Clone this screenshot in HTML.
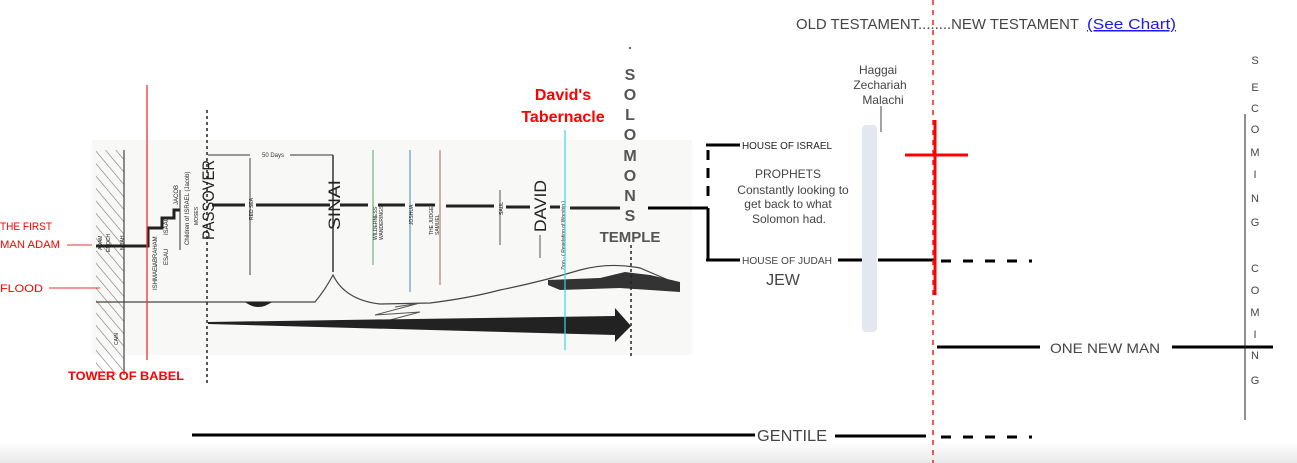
<!DOCTYPE html>
<html><head><meta charset="utf-8"><style>
html,body{margin:0;padding:0;background:#fff;width:1297px;height:463px;overflow:hidden}
svg{display:block}
text{font-family:"Liberation Sans",sans-serif}
</style></head><body>
<svg width="1297" height="463" viewBox="0 0 1297 463" xmlns="http://www.w3.org/2000/svg">
<defs>
<linearGradient id="bot" x1="0" y1="0" x2="0" y2="1"><stop offset="0" stop-color="#fff"/><stop offset="1" stop-color="#e8e8e8"/></linearGradient>
<pattern id="hatch" width="8" height="8" patternUnits="userSpaceOnUse" patternTransform="rotate(-40)"><line x1="0" y1="0" x2="0" y2="8" stroke="#777" stroke-width="1.2"/></pattern>
</defs>
<rect x="0" y="442" width="1297" height="21" fill="url(#bot)"/>
<rect x="92" y="140" width="600" height="215" fill="#f8f8f6"/>
<rect x="96" y="150" width="28" height="225" fill="url(#hatch)"/>
<line x1="124" y1="150" x2="124" y2="375" stroke="#444" stroke-width="1.2"/>
<polyline points="96,246 148,246 148,228 162,228 162,218 174,218 174,210 180,210" fill="none" stroke="#222" stroke-width="3"/>
<line x1="180" y1="190" x2="180" y2="250" stroke="#333" stroke-width="1"/>
<g stroke="#222" stroke-width="3">
<line x1="212" y1="205" x2="245" y2="205"/><line x1="256" y1="205" x2="330" y2="205"/>
<line x1="340" y1="205" x2="368" y2="205"/><line x1="378" y1="205" x2="405" y2="205"/>
<line x1="415" y1="205" x2="435" y2="205"/><line x1="446" y1="206" x2="494" y2="206"/>
<line x1="506" y1="207" x2="530" y2="207"/><line x1="550" y1="207" x2="560" y2="207"/>
<line x1="570" y1="208" x2="620" y2="208"/>
</g>
<line x1="648" y1="208" x2="708" y2="208" stroke="#000" stroke-width="3"/>
<path d="M96,302 L315,302 Q325,290 333,275 Q345,300 380,304 L430,303 Q470,298 500,290 Q540,282 580,270 Q610,262 640,268 L680,285" fill="none" stroke="#444" stroke-width="1.2"/>
<path d="M245,302 Q258,312 272,302 Z" fill="#222"/>
<path d="M548,285 L548,280 L600,278 L625,272 L650,275 L680,282 L680,292 L620,288 L560,290 Z" fill="#333"/>
<path d="M395,307 L420,303 L375,315 L420,312 L390,320" fill="none" stroke="#555" stroke-width="1"/>
<path d="M208,322 L615,316 L615,308 L631,326 L615,342 L615,335 L208,324 Z" fill="#222"/>
<line x1="208" y1="155" x2="250" y2="155" stroke="#333" stroke-width="1"/>
<line x1="290" y1="155" x2="333" y2="155" stroke="#333" stroke-width="1"/>
<text x="262" y="157" font-size="6" fill="#333">50 Days</text>
<line x1="250" y1="158" x2="250" y2="275" stroke="#444" stroke-width="1"/>
<line x1="333" y1="155" x2="333" y2="272" stroke="#333" stroke-width="1.5"/>
<line x1="373" y1="150" x2="373" y2="265" stroke="#5a6" stroke-width="1"/>
<line x1="410" y1="150" x2="410" y2="292" stroke="#48a" stroke-width="1"/>
<line x1="440" y1="150" x2="440" y2="285" stroke="#a66" stroke-width="1"/>
<line x1="500" y1="190" x2="500" y2="245" stroke="#555" stroke-width="1"/>
<line x1="540" y1="235" x2="540" y2="258" stroke="#555" stroke-width="1"/>
<g fill="#222">
<text transform="translate(214,240) rotate(-90)" font-size="17" textLength="80" lengthAdjust="spacingAndGlyphs">PASSOVER</text>
<text transform="translate(340,230) rotate(-90)" font-size="17" textLength="50" lengthAdjust="spacingAndGlyphs">SINAI</text>
<text transform="translate(546,232) rotate(-90)" font-size="17" textLength="52" lengthAdjust="spacingAndGlyphs">DAVID</text>
<text transform="translate(157,266) rotate(-90)" font-size="6">ABRAHAM</text>
<text transform="translate(157,290) rotate(-90)" font-size="6">ISHMAEL</text>
<text transform="translate(168,235) rotate(-90)" font-size="6">ISAAC</text>
<text transform="translate(168,265) rotate(-90)" font-size="6">ESAU</text>
<text transform="translate(178,205) rotate(-90)" font-size="6">JACOB</text>
<text transform="translate(189,245) rotate(-90)" font-size="6">Children of ISRAEL (Jacob)</text>
<text transform="translate(198,225) rotate(-90)" font-size="5">MOSES</text>
<text transform="translate(253,220) rotate(-90)" font-size="5">RED SEA</text>
<text transform="translate(377,240) rotate(-90)" font-size="5">WILDERNESS</text>
<text transform="translate(383,240) rotate(-90)" font-size="5">WANDERINGS</text>
<text transform="translate(413,225) rotate(-90)" font-size="5">JOSHUA</text>
<text transform="translate(433,235) rotate(-90)" font-size="5">THE JUDGES</text>
<text transform="translate(439,235) rotate(-90)" font-size="5">SAMUEL</text>
<text transform="translate(503,215) rotate(-90)" font-size="5">SAUL</text>
<text transform="translate(565,270) rotate(-90)" font-size="5">Zion - ( Revelation of Worship )</text>
<text transform="translate(102,250) rotate(-90)" font-size="5">ADAM</text>
<text transform="translate(110,252) rotate(-90)" font-size="5">ENOCH</text>
<text transform="translate(124,250) rotate(-90)" font-size="5">NOAH</text>
<text transform="translate(118,345) rotate(-90)" font-size="5">CAIN</text>
</g>
<line x1="207" y1="110" x2="207" y2="385" stroke="#222" stroke-width="1.5" stroke-dasharray="3,3"/>
<line x1="631" y1="245" x2="631" y2="358" stroke="#222" stroke-width="1.5" stroke-dasharray="3,3"/>
<circle cx="630" cy="48" r="1" fill="#333"/>
<line x1="565" y1="130" x2="565" y2="350" stroke="#3dd" stroke-width="1.2"/>
<line x1="147" y1="85" x2="147" y2="360" stroke="#e33" stroke-width="1.3"/>
<line x1="67" y1="245" x2="92" y2="245" stroke="#e33" stroke-width="1"/>
<line x1="49" y1="288" x2="100" y2="288" stroke="#e33" stroke-width="1"/>
<g fill="#f00" font-size="11">
<text x="0" y="230" textLength="52" lengthAdjust="spacingAndGlyphs">THE FIRST</text>
<text x="0" y="248" textLength="60" lengthAdjust="spacingAndGlyphs">MAN ADAM</text>
<text x="0" y="292" textLength="43" lengthAdjust="spacingAndGlyphs">FLOOD</text>
</g>
<text x="68" y="380" font-size="12" font-weight="bold" fill="#f00" textLength="116" lengthAdjust="spacingAndGlyphs">TOWER OF BABEL</text>
<text x="563" y="100" font-size="16" font-weight="bold" fill="#f00" text-anchor="middle">David's</text>
<text x="563" y="122" font-size="16" font-weight="bold" fill="#f00" text-anchor="middle">Tabernacle</text>
<g font-size="16" font-weight="bold" fill="#555" text-anchor="middle">
<text x="630" y="80">S</text><text x="630" y="100">O</text><text x="630" y="120">L</text><text x="630" y="140">O</text>
<text x="630" y="161">M</text><text x="630" y="181">O</text><text x="630" y="201">N</text><text x="630" y="221">S</text>
<text x="630" y="242" font-size="15">TEMPLE</text>
</g>
<text x="796" y="29" font-size="15" fill="#444" textLength="283" lengthAdjust="spacingAndGlyphs">OLD TESTAMENT........NEW TESTAMENT</text>
<text x="1087" y="29" font-size="15" fill="#1a1aee" text-decoration="underline" textLength="89" lengthAdjust="spacingAndGlyphs">(See Chart)</text>
<line x1="708" y1="208" x2="708" y2="260" stroke="#000" stroke-width="3"/>
<line x1="708" y1="150" x2="708" y2="200" stroke="#000" stroke-width="3" stroke-dasharray="10,8"/>
<line x1="706" y1="145" x2="740" y2="145" stroke="#000" stroke-width="3"/>
<line x1="706" y1="260" x2="740" y2="260" stroke="#000" stroke-width="3"/>
<text x="742" y="149" font-size="10" fill="#222" textLength="90" lengthAdjust="spacingAndGlyphs">HOUSE OF ISRAEL</text>
<text x="742" y="264" font-size="10" fill="#444" textLength="90" lengthAdjust="spacingAndGlyphs">HOUSE OF JUDAH</text>
<line x1="838" y1="260" x2="862" y2="260" stroke="#000" stroke-width="3"/>
<line x1="878" y1="260" x2="935" y2="260" stroke="#000" stroke-width="3"/>
<line x1="941" y1="261" x2="1032" y2="261" stroke="#000" stroke-width="3" stroke-dasharray="10,12"/>
<g font-size="12" fill="#444" text-anchor="middle">
<text x="788" y="178">PROPHETS</text>
<text x="793" y="194">Constantly looking to</text>
<text x="788" y="208">get back to what</text>
<text x="789" y="223">Solomon had.</text>
<text x="783" y="285" font-size="16">JEW</text>
<text x="878" y="74">Haggai</text>
<text x="880" y="89">Zechariah</text>
<text x="883" y="104">Malachi</text>
</g>
<line x1="881" y1="106" x2="881" y2="132" stroke="#444" stroke-width="1"/>
<rect x="862" y="125" width="15" height="207" rx="4" fill="#e2e8ee"/>
<line x1="933" y1="0" x2="933" y2="463" stroke="#e22" stroke-width="1.5" stroke-dasharray="5,5"/>
<line x1="935" y1="120" x2="935" y2="295" stroke="#f00" stroke-width="3"/>
<line x1="905" y1="155" x2="968" y2="155" stroke="#f00" stroke-width="3"/>
<line x1="937" y1="347" x2="1040" y2="347" stroke="#000" stroke-width="3"/>
<text x="1050" y="353" font-size="14" fill="#444" textLength="110" lengthAdjust="spacingAndGlyphs">ONE NEW MAN</text>
<line x1="1172" y1="347" x2="1273" y2="347" stroke="#000" stroke-width="3"/>
<line x1="1245" y1="114" x2="1245" y2="420" stroke="#222" stroke-width="1"/>
<g font-size="11" fill="#444" text-anchor="middle">
<text x="1255" y="64">S</text><text x="1255" y="91">E</text><text x="1255" y="112">C</text><text x="1255" y="133">O</text>
<text x="1255" y="156">M</text><text x="1255" y="178">I</text><text x="1255" y="202">N</text><text x="1255" y="226">G</text>
<text x="1255" y="272">C</text><text x="1255" y="294">O</text><text x="1255" y="316">M</text><text x="1255" y="338">I</text>
<text x="1255" y="359">N</text><text x="1255" y="384">G</text>
</g>
<line x1="192" y1="435" x2="755" y2="435" stroke="#000" stroke-width="3"/>
<text x="757" y="441" font-size="16" fill="#444" textLength="70" lengthAdjust="spacingAndGlyphs">GENTILE</text>
<line x1="835" y1="436" x2="926" y2="436" stroke="#000" stroke-width="3"/>
<line x1="941" y1="437" x2="1032" y2="437" stroke="#000" stroke-width="3" stroke-dasharray="10,12"/>
</svg>
</body></html>
